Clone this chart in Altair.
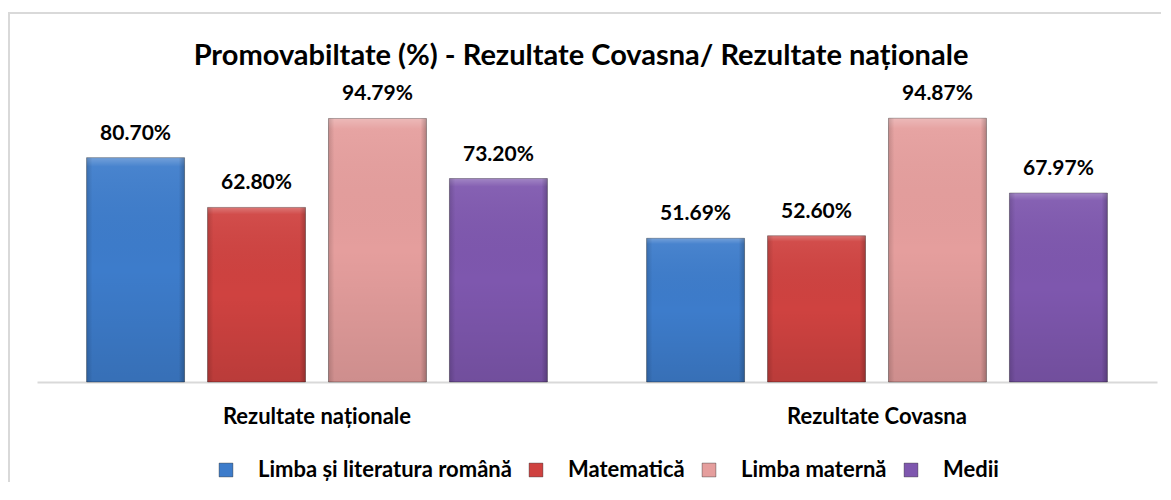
import altair as alt
import pandas as pd

title_text = "Promovabiltate (%) - Rezultate Covasna/ Rezultate naționale"
groups = ["Rezultate naționale", "Rezultate Covasna"]
subjects = ["Limba și literatura română", "Matematică", "Limba maternă", "Medii"]
nationale = [80.70, 62.80, 94.79, 73.20]
covasna = [51.69, 52.60, 94.87, 67.97]
colors = ["#3D7CCB", "#CF4240", "#E59E9D", "#7E57AE"]

rows = []
for g, vals in zip(groups, [nationale, covasna]):
    for s, v in zip(subjects, vals):
        rows.append({"group": g, "subject": s, "value": v, "label": f"{v:.2f}%"})
df = pd.DataFrame(rows)

FONT = "Lato"

base = alt.Chart(df).encode(
    x=alt.X(
        "group:N",
        sort=groups,
        scale=alt.Scale(paddingInner=0, paddingOuter=0),
        axis=alt.Axis(
            title=None, labelAngle=0, ticks=False, domainColor="#D9D9D9",
            domainWidth=2, labelFont=FONT, labelFontWeight="bold",
            labelFontSize=22, labelPadding=41, labelBaseline="alphabetic",
            labelColor="black", grid=False, labelLimit=500,
        ),
    ),
    xOffset=alt.XOffset(
        "subject:N", sort=subjects,
        scale=alt.Scale(paddingInner=0.19, paddingOuter=0.41),
    ),
    y=alt.Y("value:Q", scale=alt.Scale(domain=[0, 100]), axis=None),
)

bars = base.mark_bar(stroke="#00000055", strokeWidth=1).encode(
    color=alt.Color(
        "subject:N",
        sort=subjects,
        scale=alt.Scale(domain=subjects, range=colors),
        legend=alt.Legend(
            title=None, orient="none", direction="horizontal",
            legendX=178, legendY=355, symbolType="square", symbolSize=190,
            symbolStrokeColor="#00000055", symbolStrokeWidth=1,
            labelFont=FONT, labelFontWeight="bold", labelFontSize=22,
            labelColor="black", labelOffset=21, columnPadding=13,
            labelLimit=400,
        ),
    )
)

shade = base.mark_bar(
    fill=alt.LinearGradient(
        gradient="linear", x1=0, x2=0, y1=0, y2=1,
        stops=[
            alt.GradientStop(color="rgba(255,255,255,0.28)", offset=0),
            alt.GradientStop(color="rgba(255,255,255,0.06)", offset=0.04),
            alt.GradientStop(color="rgba(0,0,0,0.0)", offset=0.5),
            alt.GradientStop(color="rgba(0,0,0,0.1)", offset=1),
        ],
    )
)
edge = base.mark_bar(
    fill=alt.LinearGradient(
        gradient="linear", x1=0, x2=1, y1=0, y2=0,
        stops=[
            alt.GradientStop(color="rgba(0,0,0,0.15)", offset=0),
            alt.GradientStop(color="rgba(0,0,0,0.0)", offset=0.06),
            alt.GradientStop(color="rgba(0,0,0,0.0)", offset=0.94),
            alt.GradientStop(color="rgba(0,0,0,0.22)", offset=1),
        ],
    )
)

labels = base.mark_text(
    dy=-18, baseline="alphabetic", font=FONT, fontWeight="bold",
    fontSize=21, color="black",
).encode(text="label:N")

border = alt.Chart(pd.DataFrame({"a": [0]})).mark_rect(
    fillOpacity=0, stroke="#D9D9D9", strokeWidth=2, clip=False
).encode(
    x=alt.value(-28), x2=alt.value(1200), y=alt.value(-91), y2=alt.value(500)
)

title = alt.Chart(pd.DataFrame({"t": [title_text]})).mark_text(
    font=FONT, fontSize=29, fontWeight="bold", color="black",
    align="center", baseline="alphabetic",
).encode(text="t:N", x=alt.value(544), y=alt.value(-39))

chart = alt.layer(border, bars, shade, edge, labels, title).properties(
    width=1120,
    height=278,
    autosize=alt.AutoSizeParams(type="none"),
    padding={"left": 29, "top": 96, "right": 4, "bottom": 100},
    background="white",
).configure_view(stroke=None)

chart.save("out.html", embed_options={"renderer": "svg", "actions": False})
